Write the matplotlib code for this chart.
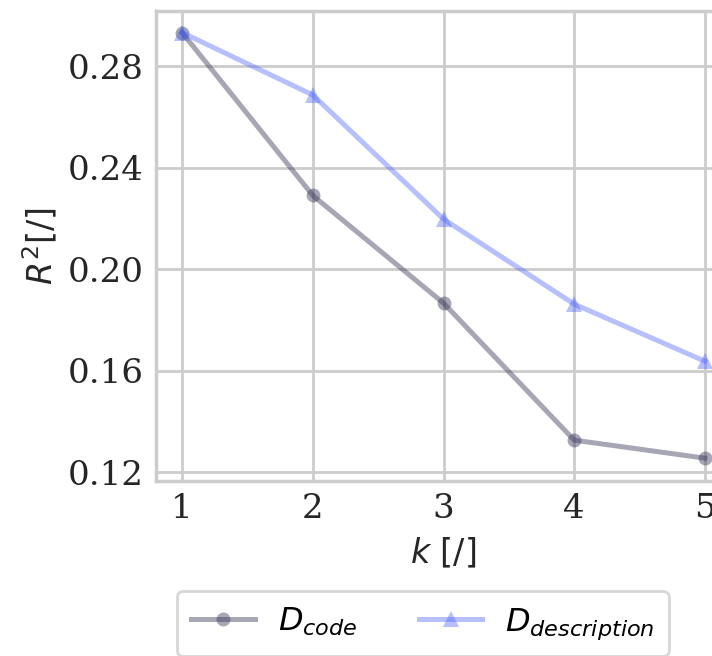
import matplotlib
matplotlib.use("Agg")
import matplotlib.pyplot as plt

k = [1, 2, 3, 4, 5]
r2_code = [0.2932, 0.2290, 0.1866, 0.1326, 0.1255]
r2_desc = [0.2932, 0.2686, 0.2197, 0.1862, 0.1637]
yticks = [0.12, 0.16, 0.20, 0.24, 0.28]

plt.rcParams['mathtext.fontset'] = 'dejavusans'

W, H = 712, 656
fig = plt.figure(figsize=(W / 100, H / 100), dpi=100)
left, right, top, bottom = 156, 731, 11, 481
ax = fig.add_axes([left / W, 1 - bottom / H, (right - left) / W, (bottom - top) / H])

ax.plot(k, r2_code, color='#3a3a5c', alpha=0.45, lw=3.6, marker='o', markersize=10,
        markeredgewidth=0, label=r'$D_{code}$', clip_on=False, zorder=3)
ax.plot(k, r2_desc, color='#4a63ff', alpha=0.4, lw=3.6, marker='^', markersize=12,
        markeredgewidth=0, label=r'$D_{description}$', clip_on=False, zorder=3)

ax.set_xlim(0.8, 5.2)
ax.set_ylim(0.1165, 0.3017)
ax.set_xticks(k)
ax.set_yticks(yticks)
ax.set_yticklabels([f'{v:.2f}' for v in yticks])
for lab in ax.get_xticklabels() + ax.get_yticklabels():
    lab.set_fontfamily('DejaVu Serif')
    lab.set_fontsize(24.5)
    lab.set_color('#262626')
ax.tick_params(length=0, pad=9)

ax.grid(True, color='#cccccc', lw=2)
ax.set_axisbelow(True)
for s in ax.spines.values():
    s.set_color('#cccccc')
    s.set_linewidth(2.5)

ax.set_xlabel(r'$k$ [/]', fontsize=24, color='#262626', labelpad=8)
ax.set_ylabel(r'$R^2$[/]', fontsize=24, color='#262626', labelpad=6)

leg = fig.legend(loc='upper left', bbox_to_anchor=(177 / W, 1 - 591 / H), ncol=2,
                 fontsize=23, frameon=True, handlelength=2.0, columnspacing=1.92,
                 borderpad=0.45, handletextpad=0.7, borderaxespad=0)
leg.get_frame().set_edgecolor('#cccccc')
leg.get_frame().set_linewidth(2)

fig.savefig('out.png', dpi=100)
